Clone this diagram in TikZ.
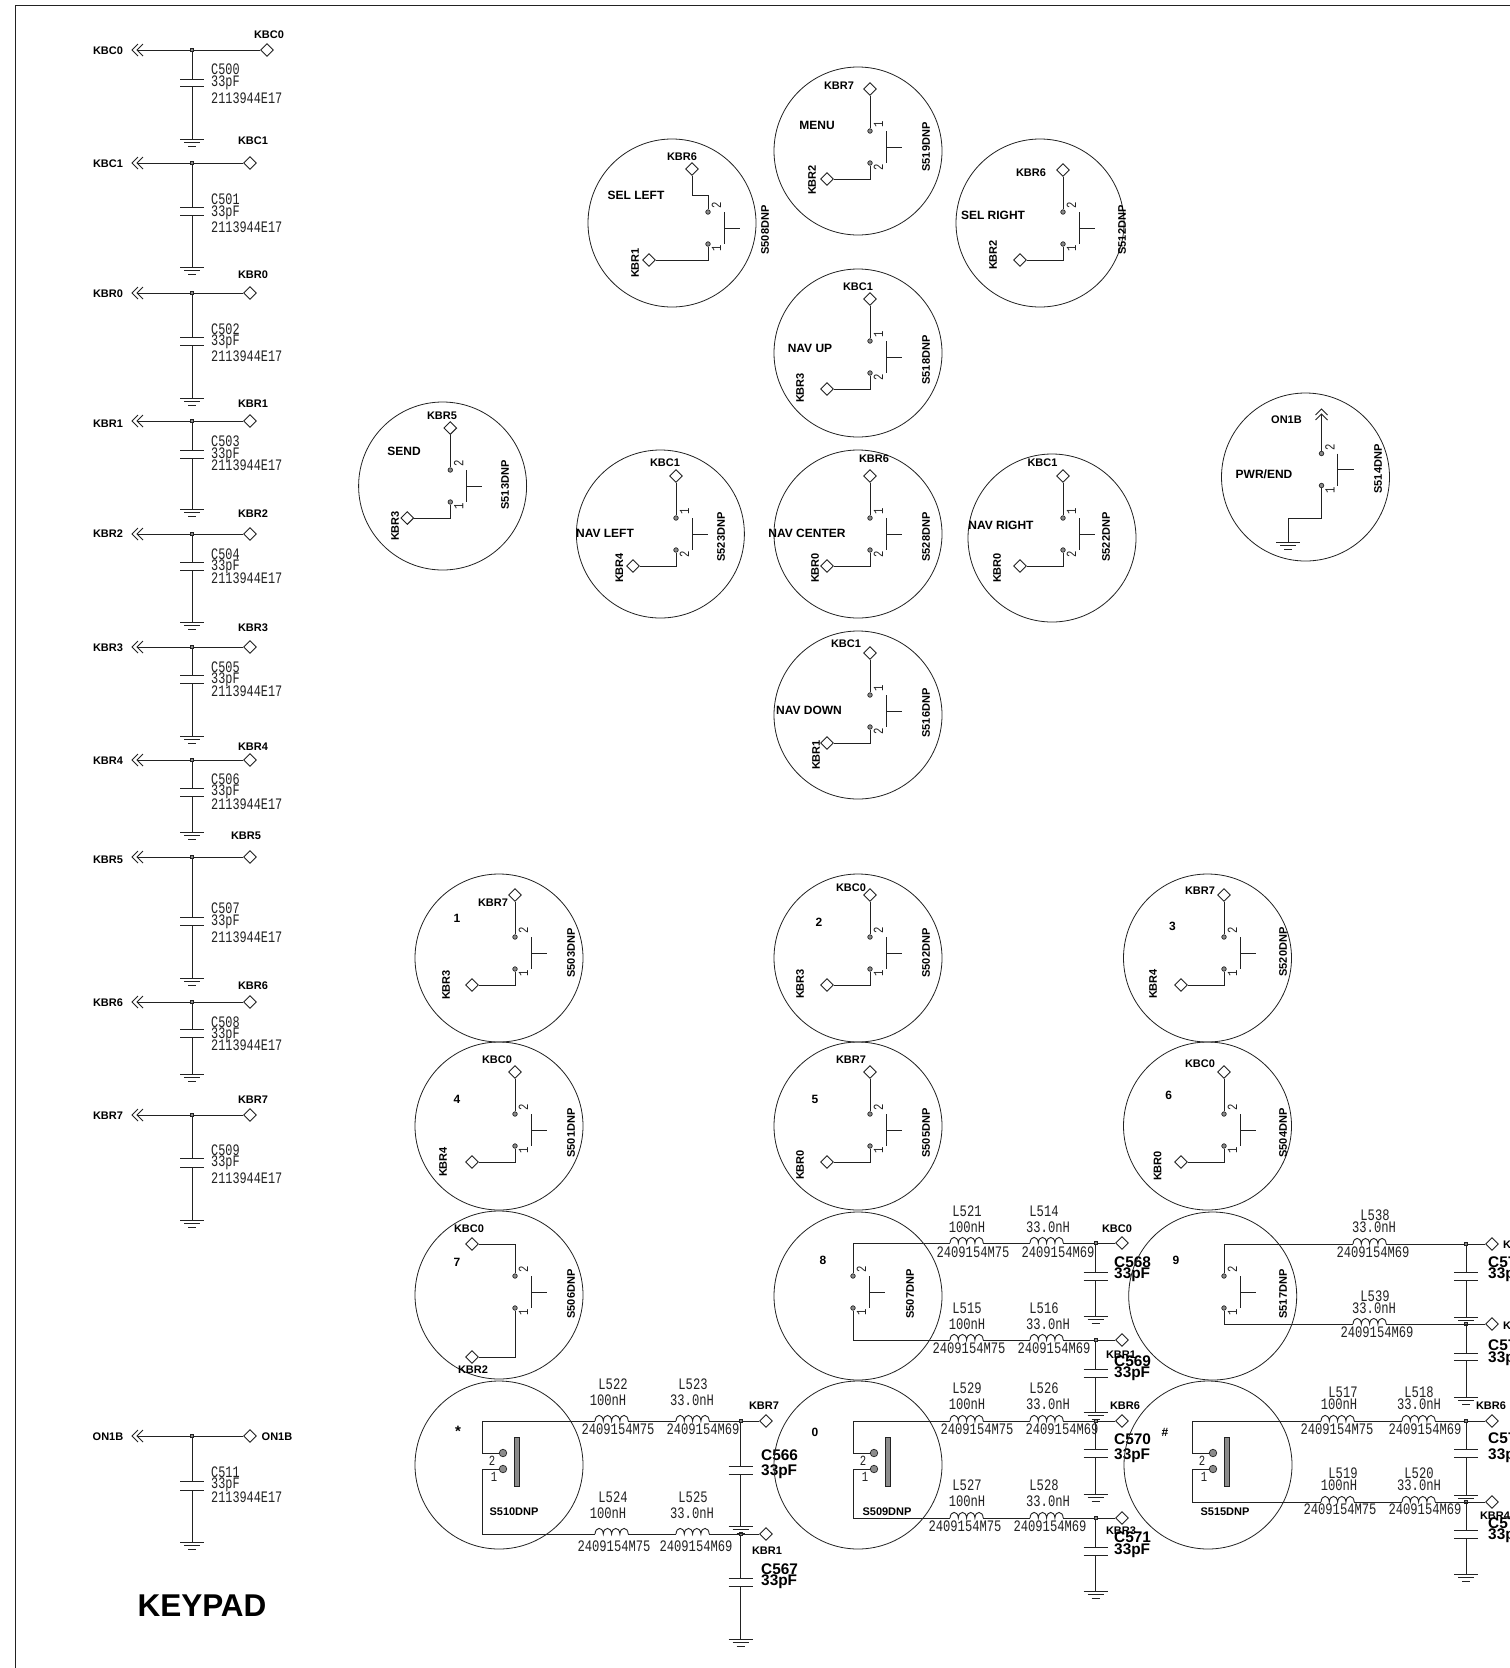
\documentclass[tikz,border=0pt]{standalone}
\usepackage{fontspec}
\setmainfont{Liberation Sans}
\newfontfamily\thinfont[FakeStretch=0.76]{Liberation Mono}
\newfontfamily\thinfontb[FakeStretch=0.74]{Liberation Mono}
\usetikzlibrary{shapes.geometric}
\definecolor{ink}{HTML}{222222}
\definecolor{pingrey}{HTML}{8C8C8C}
\tikzset{
  x=1pt,y=-1pt,
  wire/.style={draw=ink,line width=0.9pt},
  outline/.style={draw=ink,line width=0.8pt},
  keyring/.style={circle,draw=ink,line width=0.8pt,minimum size=168pt,inner sep=0pt},
  port/.style={diamond,aspect=1,draw=ink,fill=white,line width=0.9pt,minimum width=13pt,minimum height=13pt,inner sep=0pt},
  junction/.style={rectangle,draw=ink,fill=pingrey,line width=0.8pt,minimum size=3pt,inner sep=0pt},
  pindot/.style={circle,draw=ink,fill=pingrey,line width=0.7pt,minimum size=4.5pt,inner sep=0pt},
  bigdot/.style={circle,draw=ink,fill=pingrey,line width=0.7pt,minimum size=7.5pt,inner sep=0pt},
  lb/.style={inner sep=0pt,yshift=-0.6pt,font=\bfseries\fontsize{11}{11}\selectfont,text=black},
  lbr/.style={inner sep=0pt,font=\bfseries\fontsize{11}{11}\selectfont,text=black,rotate=90},
  fn/.style={inner sep=0pt,yshift=-0.6pt,font=\bfseries\fontsize{12}{12}\selectfont,text=black},
  starl/.style={inner sep=0pt,font=\bfseries\fontsize{15}{15}\selectfont,text=black},
  bigl/.style={inner sep=0pt,anchor=west,text height=11pt,text depth=0pt,font=\bfseries\fontsize{15.4}{15.4}\selectfont,text=black},
  thn/.style={inner sep=0pt,text height=10.5pt,text depth=0pt,font=\thinfont\fontsize{16}{16}\selectfont,text=ink},
  thl/.style={inner sep=0pt,anchor=west,text height=10.5pt,text depth=0pt,font=\thinfontb\fontsize{16}{16}\selectfont,text=ink},
  pinn/.style={inner sep=0pt,font=\thinfont\fontsize{14}{14}\selectfont,text=ink,rotate=90},
  pinu/.style={inner sep=0pt,font=\thinfont\fontsize{14}{14}\selectfont,text=ink},
}
\newcount\labn
\newcommand\lab[4][lb]{\global\advance\labn by 1 \node[#1] (t\the\labn) at (#2,#3) {#4};}
\newcommand\gndsym[2]{%
  \draw[wire] (#1-12,#2) -- (#1+12,#2) (#1-8,#2+3.7) -- (#1+8,#2+3.7) (#1-4,#2+7.5) -- (#1+4,#2+7.5);}
\newcommand\chevL[2]{\draw[wire] (#1+6,#2-6) -- (#1,#2) -- (#1+6,#2+6) (#1+11,#2-6) -- (#1+5,#2) -- (#1+11,#2+6);}
% id, from node, x, plate1, plate2, ground y
\newcommand\capgnd[6]{%
  \coordinate (#1-a) at (#3,#4); \coordinate (#1-b) at (#3,#5); \coordinate (#1-g) at (#3,#6);
  \draw[wire] (#2) -- (#1-a) (#1-b) -- (#1-g);
  \draw[wire] (#3-12,#4) -- (#3+12,#4) (#3-12,#5) -- (#3+12,#5);
  \gndsym{#3}{#6}}
% id, x, y
\newcommand\coil[3]{%
  \coordinate (#1-a) at (#2,#3); \coordinate (#1-b) at (#2+33.2,#3);
  \draw[wire] (#1-a)
    .. controls +(0.5,-7.5) and +(-0.5,-7.5) .. ++(8.3,0)
    .. controls +(0.5,-7.5) and +(-0.5,-7.5) .. ++(8.3,0)
    .. controls +(0.5,-7.5) and +(-0.5,-7.5) .. ++(8.3,0)
    .. controls +(0.5,-7.5) and +(-0.5,-7.5) .. ++(8.3,0);}
% id, from, c1, c2, y, junction x, port x
\newcommand\twocoil[7]{%
  \coil{#1-1}{#3}{#5}\coil{#1-2}{#4}{#5}
  \node[junction] (#1-j) at (#6,#5) {};
  \node[port] (#1-d) at (#7,#5) {};
  \draw[wire] (#2) -- (#1-1-a) (#1-1-b) -- (#1-2-a) (#1-2-b) -- (#1-j) -- (#1-d);}
% id, from, c1, y, junction x, port x
\newcommand\onecoil[6]{%
  \coil{#1-1}{#3}{#4}
  \node[junction] (#1-j) at (#5,#4) {};
  \node[port] (#1-d) at (#6,#4) {};
  \draw[wire] (#2) -- (#1-1-a) (#1-1-b) -- (#1-j) -- (#1-d);}
% id, cx, cy, x0, ym, top number, bottom number
\newcommand\baresw[7]{%
  \node[keyring] (#1) at (#2,#3) {};
  \node[pindot] (#1-t) at (#4,#5-16) {};
  \node[pindot] (#1-b) at (#4,#5+16) {};
  \draw[wire] (#4+16,#5-16) -- (#4+16,#5+16) (#4+16,#5) -- (#4+32,#5);
  \lab[pinn]{#4+8.5}{#5-22.5}{#6}
  \lab[pinn]{#4+8.5}{#5+20.5}{#7}}
\newcommand\stdsw[7]{%
  \baresw{#1}{#2}{#3}{#4}{#5}{#6}{#7}
  \node[port] (#1-p) at (#4,#5-58) {};
  \node[port] (#1-q) at (#4-43,#5+32) {};
  \draw[wire] (#1-p) -- (#1-t) (#1-q) -| (#1-b);}
% id, cx, dot x, left x, bottom wire y
\newcommand\bigsw[5]{%
  \node[keyring] (#1) at (#2,1465) {};
  \node[bigdot] (#1-t) at (#3,1453) {};
  \node[bigdot] (#1-b) at (#3,1469) {};
  \coordinate (#1-c) at (#4,1421); \coordinate (#1-e) at (#4,#5);
  \draw[draw=ink,fill=pingrey,line width=0.7pt] (#3+11,1437) rectangle (#3+16,1486);
  \draw[wire] (#1-t) -| (#1-c) (#1-b) -| (#1-e);
  \lab[pinu]{#3-11}{1461}{2}
  \lab[pinu]{#3-9}{1477}{1}}
\begin{document}
\begin{tikzpicture}
\useasboundingbox (0,0) rectangle (1510,1668);
\fill[white] (0,0) rectangle (1510,1668);
\draw[draw=ink,line width=1pt] (15,1668) -- (15,5) -- (1510,5);

% ---- filter column
\foreach \id/\nm/\yy/\dx/\tx/\ty/\ly/\cn/\ya/\yb/\yc/\pa/\pb/\gy in {
 c0/KBC0/50/267/269/34/50/C500/69/81/98/79/86/139,
 c1/KBC1/163/250/253/140/163/C501/199/211/227/207/215/267,
 r0/KBR0/293/250/253/274/293/C502/329/340.5/356.5/337/345/398,
 r1/KBR1/421/250/253/403/423/C503/441/453/465/450/458/509,
 r2/KBR2/534/250/253/513/533/C504/554/565/578/562/570/622,
 r3/KBR3/647/250/253/627/647/C505/667/678/691/675/683/736,
 r4/KBR4/760/250/253/746/760/C506/779/790/804/788/796/832,
 r5/KBR5/857/250/246/835/859/C507/908/920/937/917/925/978,
 r6/KBR6/1002/250/253/985/1002/C508/1022/1033/1045/1029/1037/1074,
 r7/KBR7/1115/250/253/1099/1115/C509/1150/1161/1178/1158/1167/1220,
 on/ON1B/1436/250/277/1436/1436/C511/1472/1483.5/1497/1481.5/1490/1542}{
  \coordinate (\id-tip) at (137,\yy);
  \node[junction] (\id-j) at (192,\yy) {};
  \node[port] (\id-d) at (\dx,\yy) {};
  \draw[wire] (\id-tip) -- (\id-j) -- (\id-d);
  \chevL{132}{\yy}
  \capgnd{\id-c}{\id-j}{192}{\pa}{\pb}{\gy}
  \node[lb] (\id-ll) at (108,\ly) {\nm};
  \node[lb] (\id-lr) at (\tx,\ty) {\nm};
  \node[thl] (\id-n1) at (211,\ya) {\cn};
  \node[thl] (\id-n2) at (211,\yb) {33pF};
  \node[thl] (\id-n3) at (211,\yc) {2113944E17};
}
\node[font=\bfseries\fontsize{31.5}{31.5}\selectfont,inner sep=0pt] (title) at (202,1606) {KEYPAD};

% ---- navigation keys
\baresw{S508}{672}{223}{708}{228}{2}{1}
\node[port] (S508-p) at (692,169) {};
\node[port] (S508-q) at (649,260) {};
\coordinate (S508-c) at (708,195);
\draw[wire] (S508-p) |- (S508-c) -- (S508-t) (S508-q) -| (S508-b);
\lab{682}{156}{KBR6} \lab[fn]{636}{195}{SEL LEFT} \lab[lbr]{635}{263}{KBR1} \lab[lbr]{765}{230}{S508DNP}

\stdsw{S519}{858}{151}{870}{147}{1}{2}
\lab{839}{85}{KBR7} \lab[fn]{817}{125}{MENU} \lab[lbr]{812}{180}{KBR2} \lab[lbr]{926}{147}{S519DNP}

\stdsw{S512}{1040}{223}{1063}{228}{2}{1}
\lab{1031}{172}{KBR6} \lab[fn]{993}{215}{SEL RIGHT} \lab[lbr]{993}{255}{KBR2} \lab[lbr]{1122}{230}{S512DNP}

\stdsw{S518}{858}{353}{870}{357}{1}{2}
\lab{858}{286}{KBC1} \lab[fn]{810}{348}{NAV UP} \lab[lbr]{800}{388}{KBR3} \lab[lbr]{926}{360}{S518DNP}

\stdsw{S513}{442.6}{486}{450.3}{486}{2}{1}
\lab{442}{415}{KBR5} \lab[fn]{404}{451}{SEND} \lab[lbr]{395}{526}{KBR3} \lab[lbr]{505}{485}{S513DNP}

\stdsw{S523}{660.4}{534}{676}{534}{1}{2}
\lab{665}{462}{KBC1} \lab[fn]{605}{533}{NAV LEFT} \lab[lbr]{619.4}{568}{KBR4} \lab[lbr]{721}{537}{S523DNP}

\stdsw{S528}{858}{534}{870}{534}{1}{2}
\lab{874}{458}{KBR6} \lab[fn]{807}{533}{NAV CENTER} \lab[lbr]{815}{568}{KBR0} \lab[lbr]{926}{537}{S528DNP}

\stdsw{S516}{858}{715}{870}{711}{1}{2}
\lab{846}{643}{KBC1} \lab[fn]{809}{710}{NAV DOWN} \lab[lbr]{816}{755}{KBR1} \lab[lbr]{926}{713}{S516DNP}

\stdsw{S522}{1052}{538}{1063}{534}{1}{2}
\lab{1042.5}{462}{KBC1} \lab[fn]{1001}{525}{NAV RIGHT} \lab[lbr]{997}{568}{KBR0} \lab[lbr]{1106}{537}{S522DNP}

\baresw{S514}{1305.5}{477}{1321.5}{469.5}{2}{1}
\coordinate (S514-tip) at (1321.5,414);
\coordinate (S514-c) at (1288,518);
\coordinate (S514-g) at (1288,542);
\draw[wire] (S514-t) -- (S514-tip);
\draw[wire] (1315.5,415) -- (1321.5,409) -- (1327.5,415) (1315.5,420) -- (1321.5,414) -- (1327.5,420);
\draw[wire] (S514-b) |- (S514-c) -- (S514-g);
\gndsym{1288}{542}
\lab{1286.5}{419}{ON1B} \lab[fn]{1264}{474}{PWR/END} \lab[lbr]{1378}{469}{S514DNP}

% ---- number keys, upper rows
\stdsw{S503}{499}{958}{515}{953}{2}{1}
\lab{493}{902}{KBR7} \lab[fn]{457}{918}{1} \lab[lbr]{446}{985}{KBR3} \lab[lbr]{571}{953}{S503DNP}
\stdsw{S501}{499}{1126}{515}{1130}{2}{1}
\lab{497}{1059}{KBC0} \lab[fn]{457}{1099}{4} \lab[lbr]{443}{1162}{KBR4} \lab[lbr]{571}{1133}{S501DNP}
\stdsw{S502}{858}{958}{870}{953}{2}{1}
\lab{851}{887}{KBC0} \lab[fn]{819}{922}{2} \lab[lbr]{800}{984}{KBR3} \lab[lbr]{926}{953}{S502DNP}
\stdsw{S505}{858}{1126}{870}{1130}{2}{1}
\lab{851}{1059}{KBR7} \lab[fn]{815}{1099}{5} \lab[lbr]{800}{1165}{KBR0} \lab[lbr]{926}{1133}{S505DNP}
\stdsw{S520}{1207.5}{958}{1224}{953}{2}{1}
\lab{1200}{890}{KBR7} \lab[fn]{1172.5}{926}{3} \lab[lbr]{1153}{984}{KBR4} \lab[lbr]{1283}{952}{S520DNP}
\stdsw{S504}{1207.5}{1126}{1224}{1130}{2}{1}
\lab{1200}{1063}{KBC0} \lab[fn]{1168.6}{1095}{6} \lab[lbr]{1157.5}{1166}{KBR0} \lab[lbr]{1283}{1133}{S504DNP}

% key 7
\baresw{S506}{499}{1295}{515}{1292}{2}{1}
\node[port] (S506-p) at (472,1244) {};
\node[port] (S506-q) at (472,1357) {};
\draw[wire] (S506-p) -| (S506-t) (S506-q) -| (S506-b);
\lab{469}{1228}{KBC0} \lab[fn]{457}{1262}{7} \lab{473}{1369}{KBR2} \lab[lbr]{571}{1294}{S506DNP}

% key *
\bigsw{S510}{499}{503}{482}{1534}
\twocoil{n7}{S510-c}{595}{676}{1421}{740.5}{766}
\twocoil{r1x}{S510-e}{595}{676}{1534}{740.5}{766}
\capgnd{C566}{n7-j}{740.5}{1466}{1474}{1526}
\capgnd{C567}{r1x-j}{740.5}{1578}{1586}{1639}
\lab[starl]{458}{1431}{*} \lab{514}{1511}{S510DNP}
\lab[thn]{613}{1384}{L522} \lab[thn]{608}{1400}{100nH} \lab[thn]{618}{1429}{2409154M75}
\lab[thn]{693}{1384}{L523} \lab[thn]{692}{1400}{33.0nH} \lab[thn]{703}{1429}{2409154M69}
\lab[thn]{613}{1497}{L524} \lab[thn]{608}{1513}{100nH} \lab[thn]{614}{1546}{2409154M75}
\lab[thn]{693}{1497}{L525} \lab[thn]{692}{1513}{33.0nH} \lab[thn]{696}{1546}{2409154M69}
\lab{764}{1405}{KBR7} \lab{767}{1550}{KBR1}
\lab[bigl]{761}{1455}{C566} \lab[bigl]{761}{1470}{33pF}
\lab[bigl]{761}{1569}{C567} \lab[bigl]{761}{1580}{33pF}

% key 8
\baresw{S507}{858}{1296}{853}{1292}{2}{1}
\coordinate (S507-c) at (853,1243); \coordinate (S507-e) at (853,1340);
\draw[wire] (S507-t) -- (S507-c) (S507-b) -- (S507-e);
\twocoil{k8a}{S507-c}{950}{1030}{1243}{1095.5}{1122}
\twocoil{k8b}{S507-e}{950}{1030}{1340}{1095.5}{1122}
\capgnd{C568}{k8a-j}{1095.5}{1272}{1280}{1316}
\capgnd{C569}{k8b-j}{1095.5}{1369}{1377}{1412}
\lab[fn]{823}{1260}{8} \lab[lbr]{910}{1294}{S507DNP}
\lab[thn]{967}{1211}{L521} \lab[thn]{967}{1227}{100nH} \lab[thn]{973}{1252}{2409154M75}
\lab[thn]{1044}{1211}{L514} \lab[thn]{1048}{1227}{33.0nH} \lab[thn]{1058}{1252}{2409154M69}
\lab[thn]{967}{1308}{L515} \lab[thn]{967}{1324}{100nH} \lab[thn]{969}{1348}{2409154M75}
\lab[thn]{1044}{1308}{L516} \lab[thn]{1048}{1324}{33.0nH} \lab[thn]{1054}{1348}{2409154M69}
\lab{1117}{1228}{KBC0} \lab{1121}{1354}{KBR1}
\lab[bigl]{1114}{1262}{C568} \lab[bigl]{1114}{1273}{33pF}
\lab[bigl]{1114}{1361}{C569} \lab[bigl]{1114}{1372}{33pF}

% key 0
\bigsw{S509}{858}{874}{853}{1518}
\twocoil{k0a}{S509-c}{950}{1030}{1421}{1095.5}{1122}
\twocoil{k0b}{S509-e}{950}{1030}{1518}{1095.5}{1122}
\capgnd{C570}{k0a-j}{1095.5}{1449}{1457}{1494}
\capgnd{C571}{k0b-j}{1095.5}{1547}{1555}{1591}
\lab[fn]{815}{1432}{0} \lab{887}{1511}{S509DNP}
\lab[thn]{967}{1388}{L529} \lab[thn]{967}{1404}{100nH} \lab[thn]{977}{1429}{2409154M75}
\lab[thn]{1044}{1388}{L526} \lab[thn]{1048}{1404}{33.0nH} \lab[thn]{1062}{1429}{2409154M69}
\lab[thn]{967}{1485}{L527} \lab[thn]{967}{1501}{100nH} \lab[thn]{965}{1526}{2409154M75}
\lab[thn]{1044}{1485}{L528} \lab[thn]{1048}{1501}{33.0nH} \lab[thn]{1050}{1526}{2409154M69}
\lab{1125}{1405}{KBR6} \lab{1121}{1530}{KBR3}
\lab[bigl]{1114}{1439}{C570} \lab[bigl]{1114}{1454}{33pF}
\lab[bigl]{1114}{1537}{C571} \lab[bigl]{1114}{1549}{33pF}

% key 9
\baresw{S517}{1212.7}{1296}{1224}{1292}{2}{1}
\coordinate (S517-c) at (1224,1244); \coordinate (S517-e) at (1224,1324);
\draw[wire] (S517-t) -- (S517-c) (S517-b) -- (S517-e);
\onecoil{k9a}{S517-c}{1353}{1244}{1466}{1492}
\onecoil{k9b}{S517-e}{1353}{1324}{1466}{1492}
\capgnd{Cr1}{k9a-j}{1466}{1272}{1280}{1317}
\capgnd{Cr2}{k9b-j}{1466}{1353}{1360}{1397}
\lab[fn]{1176}{1260}{9} \lab[lbr]{1283}{1294}{S517DNP}
\lab[thn]{1375}{1215}{L538} \lab[thn]{1374}{1227}{33.0nH} \lab[thn]{1373}{1252}{2409154M69}
\lab[thn]{1375}{1296}{L539} \lab[thn]{1374}{1308}{33.0nH} \lab[thn]{1377}{1332}{2409154M69}
\lab[lb,anchor=west]{1503}{1244}{K} \lab[lb,anchor=west]{1503}{1325}{K}
\lab[bigl]{1488}{1262}{C57} \lab[bigl]{1488}{1273}{33p}
\lab[bigl]{1488}{1345}{C57} \lab[bigl]{1488}{1357}{33p}

% key #
\bigsw{S515}{1208}{1213}{1192}{1502}
\twocoil{khA}{S515-c}{1321}{1402}{1421}{1466}{1492}
\twocoil{khB}{S515-e}{1321}{1402}{1502}{1466}{1492}
\capgnd{Cr3}{khA-j}{1466}{1449}{1457}{1495}
\capgnd{Cr4}{khB-j}{1466}{1530}{1538}{1574}
\lab[fn]{1165}{1432}{\#} \lab{1225}{1511}{S515DNP}
\lab[thn]{1343}{1392}{L517} \lab[thn]{1339}{1404}{100nH} \lab[thn]{1337}{1429}{2409154M75}
\lab[thn]{1419}{1392}{L518} \lab[thn]{1419}{1404}{33.0nH} \lab[thn]{1425}{1429}{2409154M69}
\lab[thn]{1343}{1473}{L519} \lab[thn]{1339}{1485}{100nH} \lab[thn]{1340}{1509}{2409154M75}
\lab[thn]{1419}{1473}{L520} \lab[thn]{1419}{1485}{33.0nH} \lab[thn]{1425}{1509}{2409154M69}
\lab{1491}{1405}{KBR6} \lab{1495}{1515}{KBR4}
\lab[bigl]{1488}{1438}{C57} \lab[bigl]{1488}{1454}{33p}
\lab[bigl]{1488}{1523}{C57} \lab[bigl]{1488}{1534}{33p}
\end{tikzpicture}
\end{document}
